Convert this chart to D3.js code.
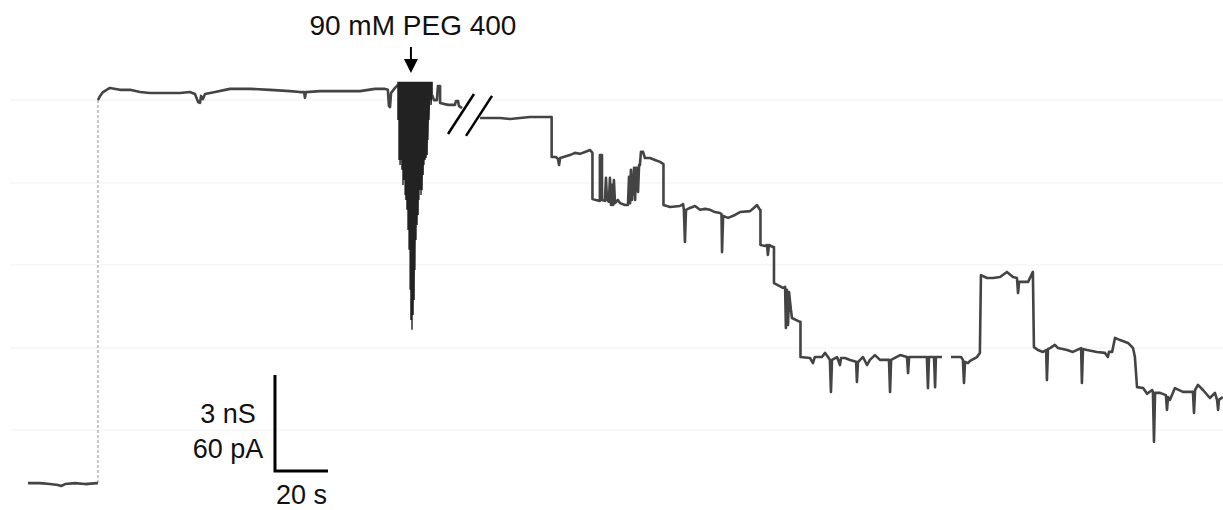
<!DOCTYPE html>
<html>
<head>
<meta charset="utf-8">
<style>
  body {margin: 0; background: #fff;}
  svg {display: block;}
  text {font-family: "Liberation Sans", Arial, sans-serif; fill: #111;}
</style>
<script src="https://d3js.org/d3.v7.min.js"></script>
</head>
<body>
<svg id="plot" width="1223" height="510"></svg>
<script>
// trace: [time (s), conductance (nS)]
var baseline = [
  [0,0.09],[4.5,0.09],[8.3,0.06],[11.3,0.03],[12.5,0.0],[14.0,0.06],[17.7,0.09],[21.5,0.06],[26.0,0.09],[26.4,0.09]
];
var rise = [[26.4,0.09],[26.4,12.06]];
var beforePeg = [
  [26.4,12.06],[27.2,12.19],[28.3,12.31],[30.9,12.44],[34.7,12.38],[38.5,12.38],[42.3,12.31],
  [46.0,12.28],[49.8,12.28],[53.6,12.28],[57.4,12.28],[61.1,12.31],[63.0,12.25],[64.2,12.00],[64.9,11.97],
  [65.3,12.19],[66.0,12.09],[66.8,12.25],[70.6,12.31],[76.2,12.41],[83.8,12.41],[91.3,12.38],[98.9,12.34],
  [102.6,12.31],[104.2,12.31],[104.5,12.13],[104.9,12.31],[110.2,12.34],[117.7,12.34],[125.3,12.34],
  [130.9,12.41],[134.7,12.41],[135.8,12.38],[136.2,11.88],[136.6,11.84],[137.0,12.28],[138.5,12.44],[139.6,12.53]
];

// PEG 400 burst: fast flicker between the top level and these minima
var burstTop = 12.63;
var burstT = [139.6,140.0,140.4,140.8,141.1,141.5,141.9,142.3,142.6,143.0,143.4,143.8,144.2,144.5,144.9,145.3,
  145.7,146.0,146.4,146.8,147.2,147.5,147.9,148.3,148.7,149.1,149.4,149.8,150.2,150.6,150.9,151.3,151.7,152.1,152.5];
var burstLow = [11.44,10.19,10.03,10.19,9.88,9.41,9.56,9.09,8.94,8.63,8.00,7.38,6.13,5.19,4.88,5.34,
  5.81,6.75,7.69,8.16,8.47,8.94,9.25,9.09,9.25,9.72,10.03,10.19,10.25,10.34,10.81,11.44,12.06,11.91,12.22];

var afterPeg = [
  [152.5,12.22],[153.2,12.06],[154.3,12.06],[154.7,12.50],[155.5,12.50],[155.5,11.97],[158.5,11.91],
  [161.1,11.91],[161.5,12.03],[162.3,12.03],[162.6,11.88],[163.8,11.81]
];

var afterBreak = [
  [170.6,11.50],[178.1,11.50],[181.9,11.47],[185.7,11.50],[189.4,11.53],[197.6,11.53],[197.6,10.28],
  [199.2,10.28],[200.0,10.22],[200.4,10.03],[200.8,10.25],[204.5,10.34],[206.4,10.41],[208.3,10.38],
  [210.2,10.44],[212.1,10.50],[213.0,10.41],[213.0,8.97],[214.3,8.94],[215.8,8.91],[215.8,10.34],
  [216.6,10.34],[216.6,8.94],[217.7,8.91],[218.1,9.63],[218.5,8.94],[219.2,8.88],[219.6,9.63],[220.0,8.78],
  [220.4,9.41],[220.8,8.78],[221.1,9.56],[221.5,8.84],[222.6,8.94],[223.4,8.84],[225.3,8.78],[226.4,8.78],
  [226.8,9.66],[227.2,8.84],[227.5,9.88],[227.9,8.94],[228.7,9.94],[229.1,8.94],[229.4,9.94],[229.8,9.94],
  [230.2,9.19],[230.6,10.03],[230.9,10.03],[231.3,10.44],[232.1,10.44],[232.8,10.25],[234.7,10.25],
  [236.6,10.19],[238.5,10.13],[239.8,10.06],[239.8,8.78],[242.3,8.72],[246.0,8.75],[247.2,8.81],[247.5,8.63],
  [247.9,7.63],[248.3,8.63],[249.8,8.69],[251.7,8.75],[253.6,8.63],[255.5,8.66],[257.4,8.63],[259.2,8.56],
  [261.1,8.53],[261.7,8.50],[261.9,7.31],[262.3,8.44],[264.2,8.38],[266.8,8.47],[268.7,8.56],[272.5,8.59],
  [274.3,8.72],[275.1,8.78],[276.2,8.63],[276.4,8.63],[276.4,7.53],[278.1,7.50],[278.9,7.53],[279.2,7.22],
  [279.6,7.53],[281.1,7.47],[281.5,7.47],[281.5,6.34],[284.9,6.19],[285.7,6.22],[286.0,4.94],[286.4,6.13],
  [286.8,5.03],[287.2,6.06],[287.5,5.81],[287.9,5.50],[288.3,5.25],[291.3,5.13],[291.5,5.13],[291.5,4.03],
  [295.1,4.00],[296.2,3.84],[296.9,4.03],[299.6,4.03],[300.8,4.16],[301.9,4.03],[302.6,3.94],[303.0,2.94],
  [303.4,3.94],[305.3,4.03],[306.4,3.78],[306.8,4.00],[308.3,4.00],[310.2,3.94],[312.5,3.88],[312.8,3.25],
  [313.2,3.88],[314.0,3.94],[315.1,4.03],[316.6,3.78],[317.7,3.94],[319.6,4.09],[321.5,3.94],[324.9,3.94],
  [325.3,2.94],[325.7,3.94],[329.1,4.09],[331.7,4.03],[332.1,3.53],[332.5,4.03],[336.6,4.03],[339.2,4.03],
  [339.6,3.06],[340.0,4.03],[341.9,4.03],[342.3,3.09],[342.6,4.03],[344.9,4.03],[345.0,null],
  [348.3,4.03],[352.1,4.03],[352.8,3.94],[353.2,3.22],[353.6,3.88],[354.7,3.84],[355.5,3.91],[358.1,4.03],
  [359.2,4.16],[359.6,6.59],[361.9,6.50],[364.2,6.50],[366.8,6.53],[369.4,6.69],[371.7,6.53],[373.2,6.50],
  [373.6,6.03],[374.0,6.38],[377.4,6.38],[379.2,6.69],[379.6,4.34],[381.1,4.25],[383.0,4.19],[384.2,4.25],
  [384.5,3.31],[384.9,4.28],[385.7,4.31],[387.5,4.41],[388.7,4.31],[392.1,4.25],[394.3,4.19],[397.4,4.31],
  [397.7,3.22],[398.1,4.28],[399.6,4.25],[403.4,4.19],[406.4,4.16],[407.5,4.03],[407.9,4.19],[409.1,4.19],
  [410.2,4.63],[412.1,4.56],[415.1,4.47],[417.0,4.31],[417.7,4.03],[418.5,3.09],[420.8,3.06],[422.3,2.88],
  [424.2,3.00],[424.5,2.94],[424.9,1.38],[425.3,2.91],[427.2,2.91],[429.4,2.84],[429.8,2.38],[430.2,2.78],
  [430.9,2.69],[432.8,3.06],[435.8,2.94],[439.6,2.94],[440.0,2.28],[440.4,3.00],[441.5,3.16],[443.4,3.00],
  [446.0,2.75],[447.9,2.91],[448.7,2.69],[449.1,2.38],[449.4,2.69],[450.9,2.78]
];

var breakMarks = [
  [[158.5,11.00],[168.3,12.25]],
  [[165.3,10.94],[175.1,12.19]]
];

// faint rulings of the recorder paper (nS)
var gridLevels = [12.06, 9.47, 6.91, 4.31, 1.75];

var scaleBar = {t: 93.2, g: 0.47, dt: 20, dg: 3};
var pegTime = 144.5;
var pegLabel = "90 mM PEG 400";

var svg = d3.select("#plot");

var x = d3.scaleLinear().domain([0, 451]).range([28, 28 + 451 * 2.65]);
var y = d3.scaleLinear().domain([0, 15]).range([486, 6]);

svg.append("g").selectAll("line")
  .data(gridLevels)
  .enter().append("line")
  .attr("x1", 10).attr("x2", 1223)
  .attr("y1", function(d) { return y(d); })
  .attr("y2", function(d) { return y(d); })
  .style("stroke", "#f4f4f4")
  .style("stroke-width", 1.2);

var line = d3.line()
  .defined(function(d) { return d[1] !== null; })
  .x(function(d) { return x(d[0]); })
  .y(function(d) { return y(d[1]); });

// the fast pen jump is faint on the paper
svg.append("path")
  .attr("d", line(rise))
  .style("fill", "none")
  .style("stroke", "#b5b5b5")
  .style("stroke-width", 1.5)
  .style("stroke-dasharray", "3,2");

[baseline, beforePeg, afterPeg, afterBreak].forEach(function(seg) {
  svg.append("path")
    .attr("d", line(seg))
    .style("fill", "none")
    .style("stroke", "#444")
    .style("stroke-width", 2.6)
    .style("stroke-linejoin", "round");
});

// zigzag for the burst
var burst = [];
burstT.forEach(function(t, i) {
  burst.push([t, burstTop]);
  burst.push([t, burstLow[i]]);
});
svg.append("path")
  .attr("d", line(burst))
  .style("fill", "none")
  .style("stroke", "#222")
  .style("stroke-width", 1.4);

// break marks
breakMarks.forEach(function(m) {
  svg.append("line")
    .attr("x1", x(m[0][0])).attr("y1", y(m[0][1]))
    .attr("x2", x(m[1][0])).attr("y2", y(m[1][1]))
    .style("stroke", "#000")
    .style("stroke-width", 2.5);
});

// arrow + label
var ax = x(pegTime);
svg.append("text")
  .attr("x", ax + 2).attr("y", 35)
  .attr("text-anchor", "middle")
  .style("font-size", "28px")
  .text(pegLabel);
svg.append("line")
  .attr("x1", ax).attr("x2", ax)
  .attr("y1", 47).attr("y2", 62)
  .style("stroke", "#000").style("stroke-width", 2);
svg.append("path")
  .attr("d", "M" + (ax - 7) + ",59 L" + (ax + 7) + ",59 L" + ax + ",73 Z")
  .style("fill", "#000");

// scale bar
var bx = x(scaleBar.t), by = y(scaleBar.g);
svg.append("path")
  .attr("d", "M" + bx + "," + y(scaleBar.g + scaleBar.dg) + " L" + bx + "," + by + " L" + x(scaleBar.t + scaleBar.dt) + "," + by)
  .style("fill", "none")
  .style("stroke", "#000")
  .style("stroke-width", 3);

svg.append("text")
  .attr("x", bx - 47).attr("y", by - 48)
  .attr("text-anchor", "middle")
  .style("font-size", "27px")
  .text("3 nS");
svg.append("text")
  .attr("x", bx - 47).attr("y", by - 13)
  .attr("text-anchor", "middle")
  .style("font-size", "27px")
  .text("60 pA");
svg.append("text")
  .attr("x", (bx + x(scaleBar.t + scaleBar.dt)) / 2).attr("y", by + 33)
  .attr("text-anchor", "middle")
  .style("font-size", "27px")
  .text("20 s");
</script>
</body>
</html>
